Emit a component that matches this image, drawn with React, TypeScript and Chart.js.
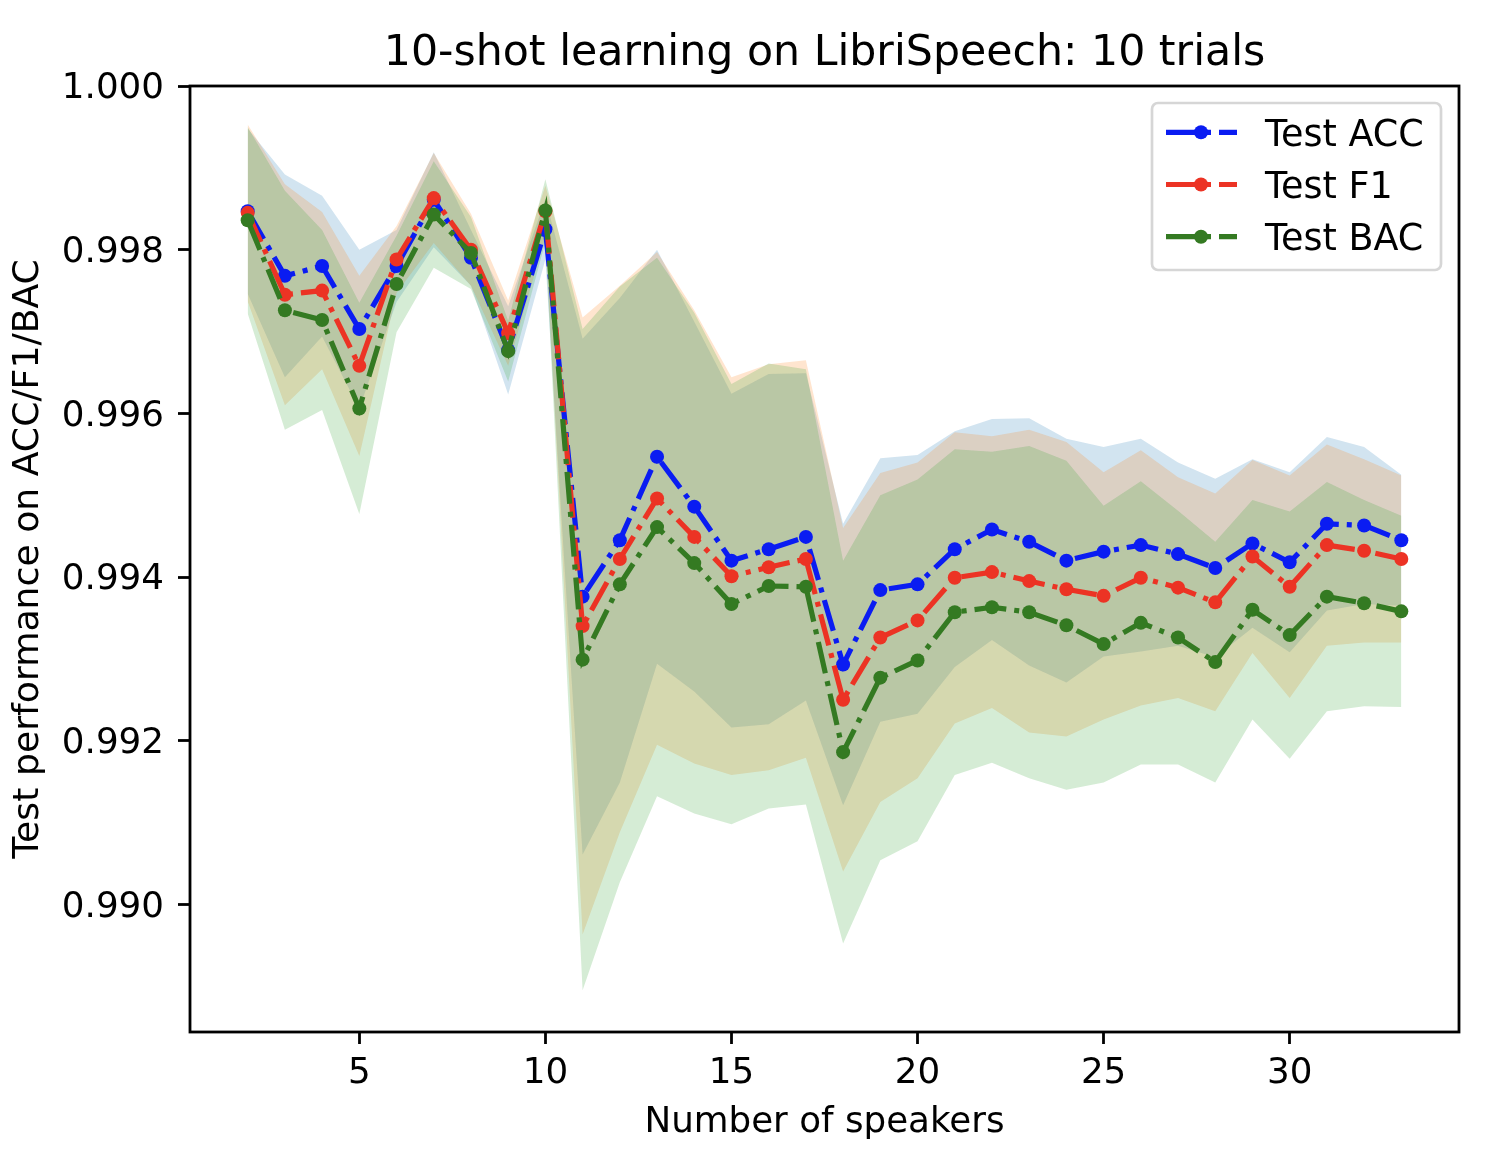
import { useEffect, useRef } from "react";
import { Chart, registerables } from "chart.js";

Chart.register(...registerables);

const W = 1496;
const H = 1154;
const FONT = "DejaVu Sans";

const TITLE = "10-shot learning on LibriSpeech: 10 trials";
const X_TITLE = "Number of speakers";
const Y_TITLE = "Test performance on ACC/F1/BAC";

const SPEAKERS = [
  2, 3, 4, 5, 6, 7, 8, 9, 10, 11, 12, 13, 14, 15, 16, 17, 18, 19, 20, 21, 22, 23, 24, 25, 26, 27,
  28, 29, 30, 31, 32, 33,
];

const ACC_MEAN = [
  0.99847, 0.99768, 0.9978, 0.99703, 0.9978, 0.99861, 0.9979, 0.99677, 0.99825, 0.99376, 0.99445,
  0.99547, 0.99486, 0.9942, 0.99434, 0.99449, 0.99293, 0.99384, 0.99391, 0.99434, 0.99458, 0.99443,
  0.9942, 0.99431, 0.99439, 0.99428, 0.99411, 0.99441, 0.99418, 0.99465, 0.99463, 0.99445,
];
const ACC_STD = [
  0.00101, 0.00124, 0.00086, 0.00097, 0.00044, 0.00058, 0.00034, 0.00054, 0.00037, 0.00315, 0.00296,
  0.00253, 0.00226, 0.00204, 0.00214, 0.002, 0.00172, 0.00161, 0.00158, 0.00144, 0.00135, 0.00151,
  0.00149, 0.00128, 0.0013, 0.00112, 0.00109, 0.00103, 0.0011, 0.00106, 0.00096, 0.0008,
];

const F1_MEAN = [
  0.99845, 0.99745, 0.9975, 0.99658, 0.99788, 0.99863, 0.998, 0.99698, 0.99847, 0.9934, 0.99422,
  0.99496, 0.99449, 0.99401, 0.99412, 0.99422, 0.9925, 0.99326, 0.99347, 0.99399, 0.99406, 0.99395,
  0.99385, 0.99377, 0.99399, 0.99387, 0.99369, 0.99425, 0.99388, 0.99439, 0.99432, 0.99422,
];
const F1_STD = [
  0.00108, 0.00135, 0.00096, 0.0011, 0.00041, 0.00055, 0.00044, 0.0004, 0.00031, 0.00377, 0.00334,
  0.00301, 0.00277, 0.00243, 0.00248, 0.00243, 0.0021, 0.00201, 0.00193, 0.00178, 0.00166, 0.00185,
  0.0018, 0.00151, 0.00156, 0.00135, 0.00133, 0.00118, 0.00136, 0.00123, 0.00112, 0.00102,
];

const BAC_MEAN = [
  0.99836, 0.99726, 0.99714, 0.99606, 0.99758, 0.99843, 0.99796, 0.99676, 0.99848, 0.99299, 0.99391,
  0.99461, 0.99417, 0.99367, 0.99389, 0.99388, 0.99186, 0.99277, 0.99298, 0.99357, 0.99363, 0.99357,
  0.99341, 0.99318, 0.99344, 0.99326, 0.99296, 0.9936, 0.99329, 0.99376, 0.99368, 0.99358,
];
const BAC_STD = [
  0.00114, 0.00146, 0.0011, 0.00129, 0.00059, 0.00065, 0.00044, 0.00037, 0.00038, 0.00404, 0.00364,
  0.00329, 0.00306, 0.00269, 0.00272, 0.00266, 0.00234, 0.00223, 0.00221, 0.00199, 0.0019, 0.00203,
  0.00201, 0.00169, 0.00173, 0.00155, 0.00147, 0.00134, 0.00151, 0.0014, 0.00126, 0.00117,
];

const SERIES_LABELS = ["Test ACC", "Test F1", "Test BAC"];
const LINE_COLORS = ["#0a1cf2", "#ec3324", "#347a22"];
const BAND_COLORS = [
  "rgba(31, 119, 180, 0.2)",
  "rgba(255, 127, 14, 0.2)",
  "rgba(44, 160, 44, 0.2)",
];

const X_TICKS = [5, 10, 15, 20, 25, 30];
const Y_TICKS = [0.99, 0.992, 0.994, 0.996, 0.998, 1.0];

const DASH = [32, 8, 5, 8];
const LINE_W = 5.2;
const DOT_R = 7;

const MEANS = [ACC_MEAN, F1_MEAN, BAC_MEAN];
const STDS = [ACC_STD, F1_STD, BAC_STD];

const overlay = {
  id: "overlay",
  afterDatasetsDraw(chart: Chart) {
    const { ctx, chartArea: a } = chart;
    ctx.save();
    ctx.strokeStyle = "#000";
    ctx.lineWidth = 2.8;
    ctx.setLineDash([]);
    ctx.strokeRect(a.left, a.top, a.right - a.left, a.bottom - a.top);
    ctx.restore();
  },
  afterDraw(chart: Chart) {
    const { ctx, chartArea: a } = chart;
    ctx.save();

    // title
    ctx.fillStyle = "#000";
    ctx.font = `42.7px "${FONT}"`;
    ctx.textAlign = "center";
    ctx.textBaseline = "alphabetic";
    ctx.fillText(TITLE, (a.left + a.right) / 2, 65);

    // legend
    const bx = 1152;
    const by = 103;
    const bw = 289;
    const bh = 167;
    ctx.beginPath();
    ctx.roundRect(bx, by, bw, bh, 6);
    ctx.fillStyle = "rgba(255,255,255,0.8)";
    ctx.fill();
    ctx.strokeStyle = "#d6d6d6";
    ctx.lineWidth = 2.7;
    ctx.stroke();

    ctx.font = `36.5px "${FONT}"`;
    ctx.textAlign = "left";
    SERIES_LABELS.forEach((label, i) => {
      const y = 132.3 + i * 52.2;
      ctx.strokeStyle = LINE_COLORS[i];
      ctx.lineWidth = LINE_W;
      ctx.setLineDash(DASH);
      ctx.beginPath();
      ctx.moveTo(1166, y);
      ctx.lineTo(1237, y);
      ctx.stroke();
      ctx.setLineDash([]);
      ctx.fillStyle = LINE_COLORS[i];
      ctx.beginPath();
      ctx.arc(1201, y, DOT_R, 0, Math.PI * 2);
      ctx.fill();
      ctx.fillStyle = "#000";
      ctx.fillText(label, 1265, y + 13.5);
    });
    ctx.restore();
  },
};

export default function App() {
  const canvasRef = useRef<HTMLCanvasElement>(null);

  useEffect(() => {
    document.body.style.margin = "0";
    if (!canvasRef.current) return;

    const datasets: any[] = [];
    MEANS.forEach((mean, i) => {
      const std = STDS[i];
      const lowerIdx = datasets.length;
      datasets.push({
        label: `${SERIES_LABELS[i]} lower`,
        data: SPEAKERS.map((x, j) => ({ x, y: mean[j] - std[j] })),
        borderColor: "rgba(0,0,0,0)",
        backgroundColor: "rgba(0,0,0,0)",
        borderWidth: 1,
        pointRadius: 0,
        fill: false,
        order: 30,
      });
      datasets.push({
        label: `${SERIES_LABELS[i]} band`,
        data: SPEAKERS.map((x, j) => ({ x, y: mean[j] + std[j] })),
        borderColor: "rgba(0,0,0,0)",
        backgroundColor: BAND_COLORS[i],
        borderWidth: 1,
        pointRadius: 0,
        fill: { target: lowerIdx, above: BAND_COLORS[i], below: BAND_COLORS[i] },
        order: 12 - i,
      });
    });
    MEANS.forEach((mean, i) => {
      datasets.push({
        label: SERIES_LABELS[i],
        data: SPEAKERS.map((x, j) => ({ x, y: mean[j] })),
        borderColor: LINE_COLORS[i],
        backgroundColor: LINE_COLORS[i],
        borderWidth: LINE_W,
        borderDash: DASH,
        pointRadius: DOT_R,
        pointBorderWidth: 0,
        pointBackgroundColor: LINE_COLORS[i],
        fill: false,
        order: 2 - i,
      });
    });

    const tickFont = { family: FONT, size: 35.7 };

    const chart = new Chart(canvasRef.current, {
      type: "line",
      data: { datasets },
      plugins: [overlay],
      options: {
        responsive: false,
        devicePixelRatio: 1,
        animation: false,
        layout: { padding: { top: 86, right: 37, left: 0, bottom: 0 } },
        plugins: {
          legend: { display: false },
          tooltip: { enabled: false },
          title: { display: false },
        },
        scales: {
          x: {
            type: "linear",
            min: 0.45,
            max: 34.55,
            afterBuildTicks: (s: any) => {
              s.ticks = X_TICKS.map((v) => ({ value: v }));
            },
            afterFit: (s: any) => {
              s.height = 122;
            },
            grid: {
              display: true,
              drawOnChartArea: false,
              drawTicks: true,
              tickLength: 12,
              tickWidth: 2.8,
              tickColor: "#000",
            },
            border: { display: false },
            ticks: {
              color: "#000",
              font: tickFont,
              padding: 8,
              maxRotation: 0,
              autoSkip: false,
              callback: (v: any) => String(v),
            },
            title: {
              display: true,
              text: X_TITLE,
              color: "#000",
              font: tickFont,
              padding: { top: 0, bottom: 10 },
            },
          },
          y: {
            type: "linear",
            min: 0.98844,
            max: 1.0,
            afterBuildTicks: (s: any) => {
              s.ticks = Y_TICKS.map((v) => ({ value: v }));
            },
            afterFit: (s: any) => {
              s.width = 190;
            },
            grid: {
              display: true,
              drawOnChartArea: false,
              drawTicks: true,
              tickLength: 12,
              tickWidth: 2.8,
              tickColor: "#000",
            },
            border: { display: false },
            ticks: {
              color: "#000",
              font: tickFont,
              padding: 14,
              labelOffset: 3,
              autoSkip: false,
              callback: (v: any) => Number(v).toFixed(3),
            },
            title: {
              display: true,
              text: Y_TITLE,
              color: "#000",
              font: { family: FONT, size: 36.2 },
              padding: { top: 7, bottom: 0 },
            },
          },
        },
      },
    });

    return () => {
      chart.destroy();
    };
  }, []);

  return (
    <div style={{ width: W, height: H, background: "#fff" }}>
      <canvas ref={canvasRef} width={W} height={H} style={{ width: W, height: H, display: "block" }} />
    </div>
  );
}
